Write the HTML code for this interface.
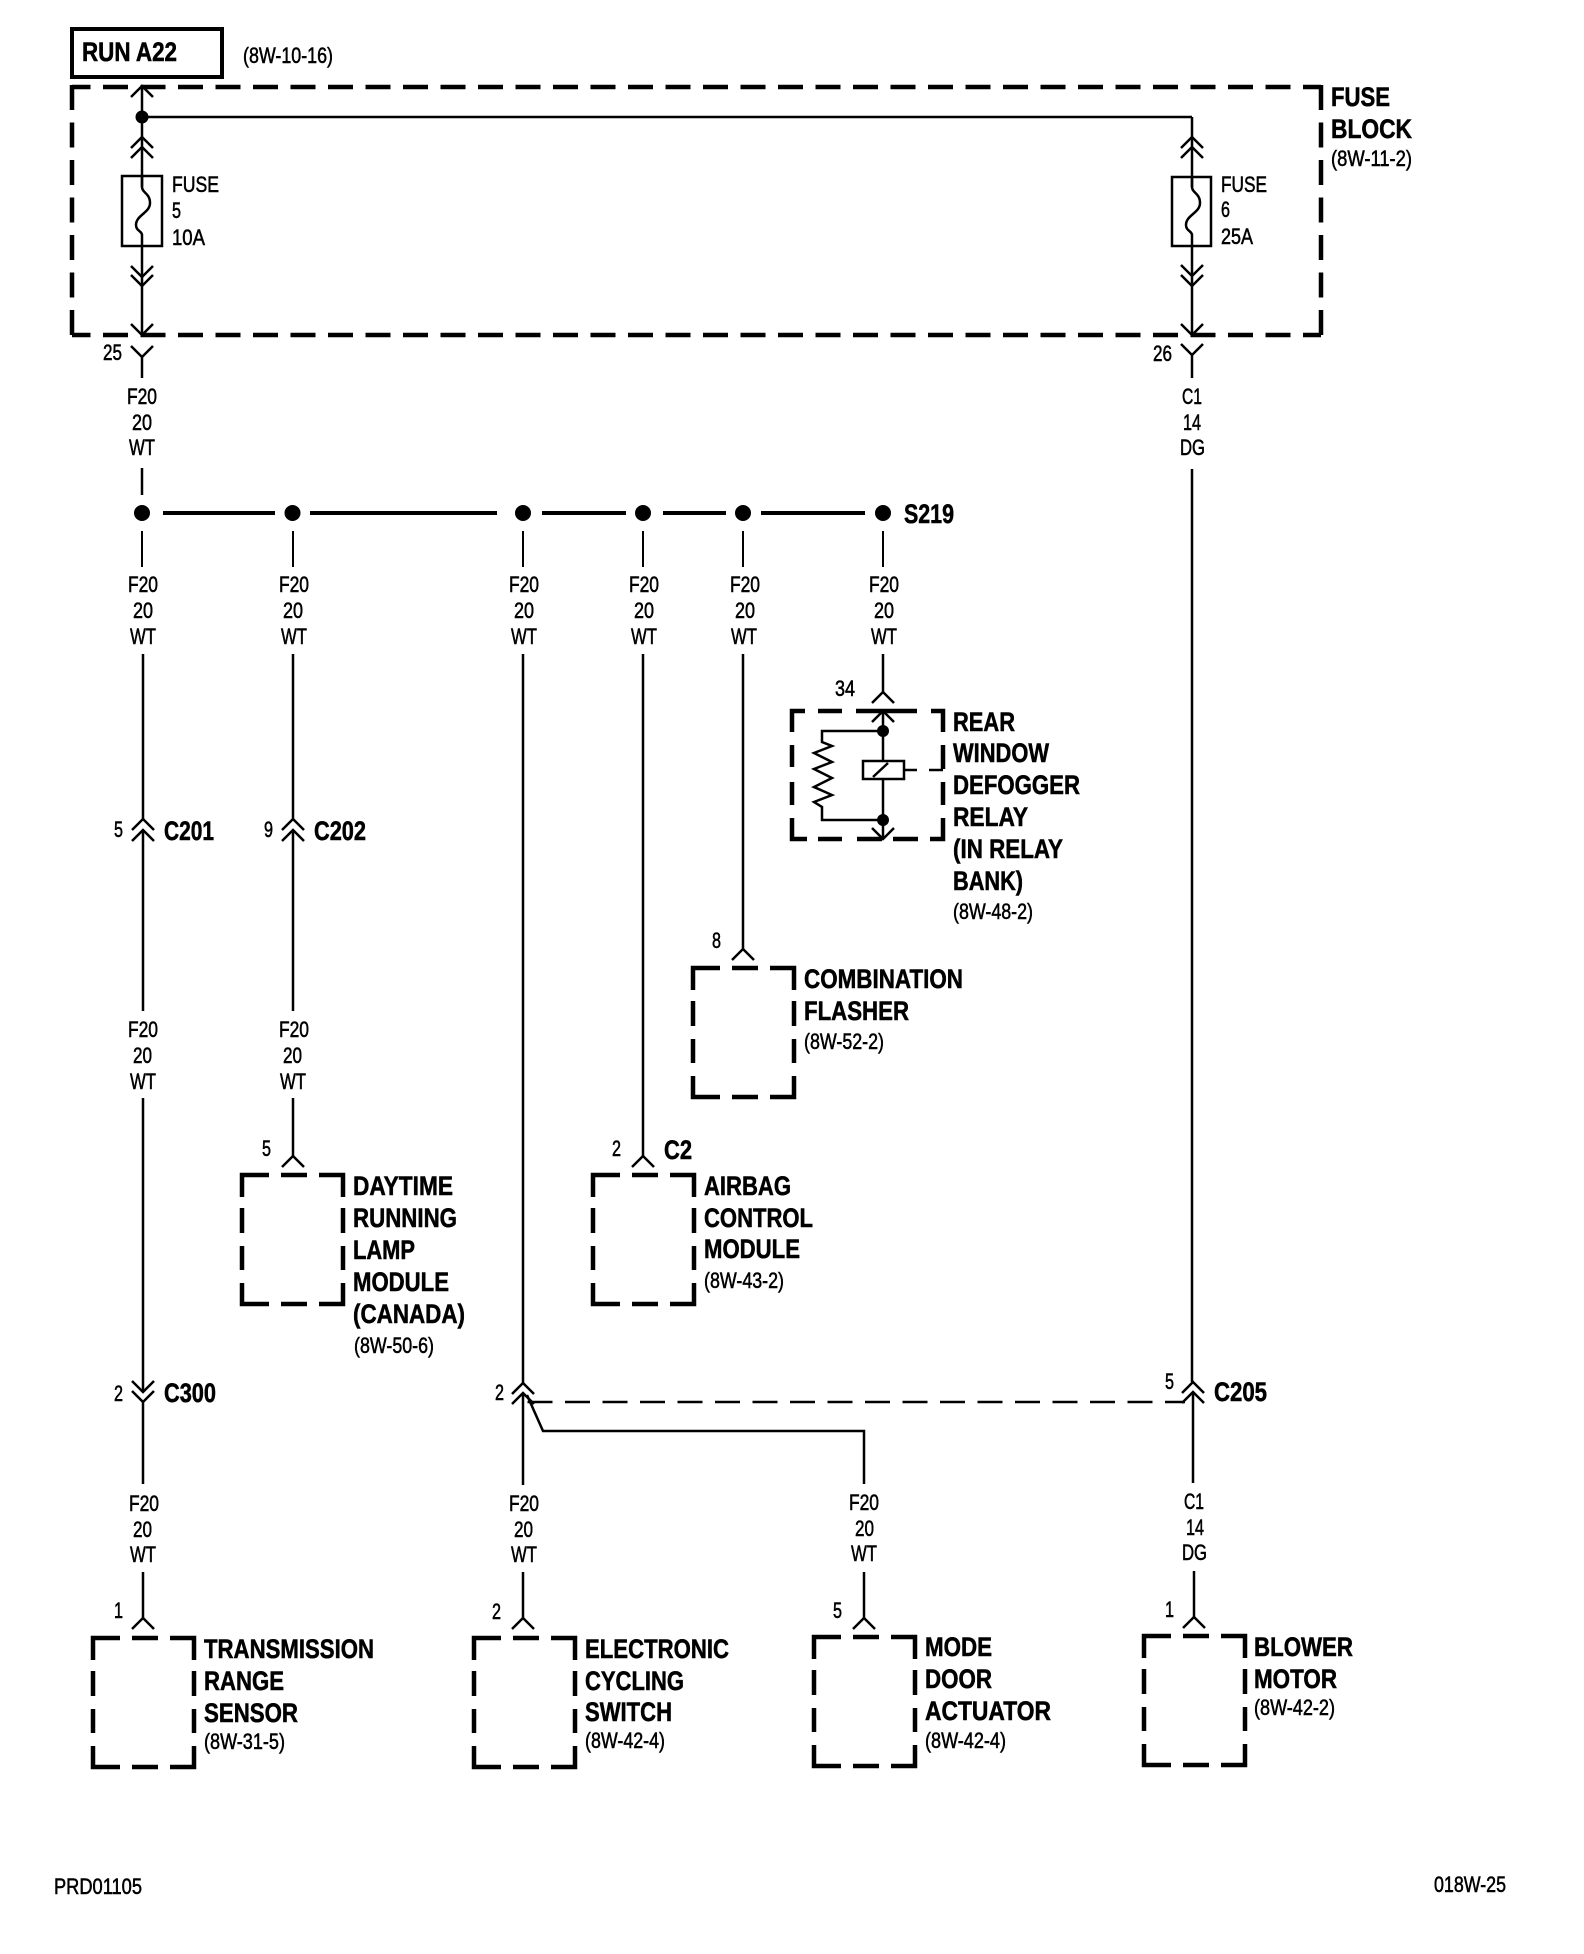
<!DOCTYPE html>
<html><head><meta charset="utf-8"><title>Wiring diagram</title>
<style>
html,body{margin:0;padding:0;background:#fff}
svg{display:block}
text{font-family:"Liberation Sans",sans-serif;fill:#000;font-size:22px;stroke:#000;stroke-width:.55px}
text.b{font-weight:bold;font-size:27px;stroke-width:.55px}
.w{stroke:#000;stroke-width:2.5;fill:none}
.h{stroke:#000;stroke-width:4.5;fill:none}
.d{stroke:#000;stroke-width:4.5;fill:none;stroke-dasharray:25 12.5;stroke-dashoffset:6.5}
</style></head><body>
<svg width="1584" height="1954" viewBox="0 0 1584 1954" xmlns="http://www.w3.org/2000/svg">
<defs>
<path id="u" class="w" d="M-11 11L0 0L11 11"/>
<path id="v" class="w" d="M-11 -11L0 0L11 -11"/>
<path id="box" class="h" d="M27 0H0V22M39 0H65M77 0H101V22M0 33V58M101 33V58M0 71V95M101 71V95M0 108V129H27M39 129H65M77 129H101V108"/>
<path id="fs" class="w" d="M0 -59V-48C0 -42 8 -42 8 -32C8 -22 -6 -20 -6 -10C-6 -4 0 -4 0 0"/>
</defs>
<rect width="1584" height="1954" fill="#fff"/>

<!-- RUN box -->
<rect x="72" y="29" width="150" height="48" fill="none" stroke="#000" stroke-width="4"/>
<text class="b" x="82" y="61" textLength="95" lengthAdjust="spacingAndGlyphs">RUN A22</text>
<text x="243" y="63" textLength="90" lengthAdjust="spacingAndGlyphs">(8W-10-16)</text>

<!-- Fuse block -->
<line class="d" x1="72" y1="87" x2="1321" y2="87"/>
<line class="d" x1="72" y1="335" x2="1321" y2="335"/>
<line class="h" style="stroke-dasharray:25 12.5" x1="72" y1="85" x2="72" y2="337"/>
<line class="h" style="stroke-dasharray:25 12.5" x1="1321" y1="85" x2="1321" y2="337"/>
<text class="b" x="1331" y="106" textLength="59" lengthAdjust="spacingAndGlyphs">FUSE</text>
<text class="b" x="1331" y="138" textLength="81" lengthAdjust="spacingAndGlyphs">BLOCK</text>
<text x="1331" y="166" textLength="81" lengthAdjust="spacingAndGlyphs">(8W-11-2)</text>

<!-- fuse 5 -->
<line class="w" x1="142" y1="86" x2="142" y2="187"/>
<line class="w" x1="142" y1="117" x2="1192" y2="117"/>
<circle cx="142" cy="117" r="6.5"/>
<use href="#u" x="142" y="86"/><use href="#u" x="142" y="137"/><use href="#u" x="142" y="147"/>
<rect x="122" y="176" width="40" height="70" fill="none" stroke="#000" stroke-width="2.5"/>
<use href="#fs" x="142" y="235"/>
<line class="w" x1="142" y1="235" x2="142" y2="335"/>
<use href="#v" x="142" y="277"/><use href="#v" x="142" y="286"/><use href="#v" x="142" y="335"/>
<text x="172" y="192" textLength="47" lengthAdjust="spacingAndGlyphs">FUSE</text>
<text x="172" y="218" textLength="9" lengthAdjust="spacingAndGlyphs">5</text>
<text x="172" y="245" textLength="33" lengthAdjust="spacingAndGlyphs">10A</text>
<text x="103" y="360" textLength="19" lengthAdjust="spacingAndGlyphs">25</text>
<use href="#v" x="142" y="357"/><line class="w" x1="142" y1="357" x2="142" y2="378"/>
<text x="127" y="404" textLength="30" lengthAdjust="spacingAndGlyphs">F20</text>
<text x="132" y="430" textLength="20" lengthAdjust="spacingAndGlyphs">20</text>
<text x="129" y="455" textLength="26" lengthAdjust="spacingAndGlyphs">WT</text>
<line class="w" x1="142" y1="468" x2="142" y2="495"/>

<!-- fuse 6 -->
<line class="w" x1="1192" y1="117" x2="1192" y2="187"/>
<use href="#u" x="1192" y="137"/><use href="#u" x="1192" y="147"/>
<rect x="1172" y="177" width="39" height="69" fill="none" stroke="#000" stroke-width="2.5"/>
<use href="#fs" x="1192" y="235"/>
<line class="w" x1="1192" y1="235" x2="1192" y2="335"/>
<use href="#v" x="1192" y="276"/><use href="#v" x="1192" y="286"/><use href="#v" x="1192" y="335"/>
<text x="1221" y="192" textLength="46" lengthAdjust="spacingAndGlyphs">FUSE</text>
<text x="1221" y="217" textLength="9" lengthAdjust="spacingAndGlyphs">6</text>
<text x="1221" y="244" textLength="32" lengthAdjust="spacingAndGlyphs">25A</text>
<text x="1153" y="361" textLength="19" lengthAdjust="spacingAndGlyphs">26</text>
<use href="#v" x="1192" y="355"/><line class="w" x1="1192" y1="355" x2="1192" y2="378"/>
<text x="1182" y="404" textLength="20" lengthAdjust="spacingAndGlyphs">C1</text>
<text x="1183" y="430" textLength="18" lengthAdjust="spacingAndGlyphs">14</text>
<text x="1180" y="455" textLength="25" lengthAdjust="spacingAndGlyphs">DG</text>
<line class="w" x1="1192" y1="469" x2="1192" y2="1382"/>

<!-- bus -->
<g class="h" style="stroke-width:4">
<line x1="163" y1="513" x2="275" y2="513"/><line x1="310" y1="513" x2="497" y2="513"/>
<line x1="542" y1="513" x2="626" y2="513"/><line x1="663" y1="513" x2="726" y2="513"/>
<line x1="761" y1="513" x2="865" y2="513"/>
</g>
<circle cx="142" cy="513" r="8"/><circle cx="292.5" cy="513" r="8"/><circle cx="523" cy="513" r="8"/>
<circle cx="643" cy="513" r="8"/><circle cx="743" cy="513" r="8"/><circle cx="883" cy="513" r="8"/>
<text class="b" x="904" y="523" textLength="50" lengthAdjust="spacingAndGlyphs">S219</text>

<!-- drops -->
<g class="w" style="stroke-width:2">
<line x1="142" y1="531" x2="142" y2="567"/><line x1="293" y1="531" x2="293" y2="567"/>
<line x1="523" y1="531" x2="523" y2="567"/><line x1="643" y1="531" x2="643" y2="567"/>
<line x1="743" y1="531" x2="743" y2="567"/><line x1="883" y1="531" x2="883" y2="567"/>
</g>
<text x="128" y="592" textLength="30" lengthAdjust="spacingAndGlyphs">F20</text><text x="133" y="618" textLength="20" lengthAdjust="spacingAndGlyphs">20</text><text x="130" y="644" textLength="26" lengthAdjust="spacingAndGlyphs">WT</text>
<text x="279" y="592" textLength="30" lengthAdjust="spacingAndGlyphs">F20</text><text x="283" y="618" textLength="20" lengthAdjust="spacingAndGlyphs">20</text><text x="281" y="644" textLength="26" lengthAdjust="spacingAndGlyphs">WT</text>
<text x="509" y="592" textLength="30" lengthAdjust="spacingAndGlyphs">F20</text><text x="514" y="618" textLength="20" lengthAdjust="spacingAndGlyphs">20</text><text x="511" y="644" textLength="26" lengthAdjust="spacingAndGlyphs">WT</text>
<text x="629" y="592" textLength="30" lengthAdjust="spacingAndGlyphs">F20</text><text x="634" y="618" textLength="20" lengthAdjust="spacingAndGlyphs">20</text><text x="631" y="644" textLength="26" lengthAdjust="spacingAndGlyphs">WT</text>
<text x="730" y="592" textLength="30" lengthAdjust="spacingAndGlyphs">F20</text><text x="735" y="618" textLength="20" lengthAdjust="spacingAndGlyphs">20</text><text x="731" y="644" textLength="26" lengthAdjust="spacingAndGlyphs">WT</text>
<text x="869" y="592" textLength="30" lengthAdjust="spacingAndGlyphs">F20</text><text x="874" y="618" textLength="20" lengthAdjust="spacingAndGlyphs">20</text><text x="871" y="644" textLength="26" lengthAdjust="spacingAndGlyphs">WT</text>

<!-- col 1 -->
<line class="w" x1="143" y1="654" x2="143" y2="819"/>
<use href="#u" x="143" y="819"/><use href="#u" x="143" y="830"/>
<line class="w" x1="143" y1="830" x2="143" y2="1011"/>
<text x="114" y="837" textLength="9" lengthAdjust="spacingAndGlyphs">5</text>
<text class="b" x="164" y="840" textLength="50" lengthAdjust="spacingAndGlyphs">C201</text>
<text x="128" y="1037" textLength="30" lengthAdjust="spacingAndGlyphs">F20</text><text x="133" y="1063" textLength="19" lengthAdjust="spacingAndGlyphs">20</text><text x="130" y="1089" textLength="26" lengthAdjust="spacingAndGlyphs">WT</text>
<line class="w" x1="143" y1="1098" x2="143" y2="1392"/>
<use href="#v" x="143" y="1392"/><use href="#v" x="143" y="1402"/>
<line class="w" x1="143" y1="1402" x2="143" y2="1484"/>
<text x="114" y="1401" textLength="9" lengthAdjust="spacingAndGlyphs">2</text>
<text class="b" x="164" y="1402" textLength="52" lengthAdjust="spacingAndGlyphs">C300</text>
<text x="129" y="1511" textLength="30" lengthAdjust="spacingAndGlyphs">F20</text><text x="133" y="1537" textLength="19" lengthAdjust="spacingAndGlyphs">20</text><text x="130" y="1562" textLength="26" lengthAdjust="spacingAndGlyphs">WT</text>
<line class="w" x1="143" y1="1572" x2="143" y2="1618"/><use href="#u" x="143" y="1618"/>
<text x="114" y="1618" textLength="9" lengthAdjust="spacingAndGlyphs">1</text>
<use href="#box" x="93" y="1638"/>
<text class="b" x="204" y="1658" textLength="170" lengthAdjust="spacingAndGlyphs">TRANSMISSION</text>
<text class="b" x="204" y="1690" textLength="80" lengthAdjust="spacingAndGlyphs">RANGE</text>
<text class="b" x="204" y="1722" textLength="94" lengthAdjust="spacingAndGlyphs">SENSOR</text>
<text x="204" y="1749" textLength="81" lengthAdjust="spacingAndGlyphs">(8W-31-5)</text>

<!-- col 2 -->
<line class="w" x1="293" y1="654" x2="293" y2="819"/>
<use href="#u" x="293" y="819"/><use href="#u" x="293" y="830"/>
<line class="w" x1="293" y1="830" x2="293" y2="1011"/>
<text x="264" y="837" textLength="9" lengthAdjust="spacingAndGlyphs">9</text>
<text class="b" x="314" y="840" textLength="52" lengthAdjust="spacingAndGlyphs">C202</text>
<text x="279" y="1037" textLength="30" lengthAdjust="spacingAndGlyphs">F20</text><text x="283" y="1063" textLength="19" lengthAdjust="spacingAndGlyphs">20</text><text x="280" y="1089" textLength="26" lengthAdjust="spacingAndGlyphs">WT</text>
<line class="w" x1="293" y1="1098" x2="293" y2="1156"/><use href="#u" x="293" y="1156"/>
<text x="262" y="1156" textLength="9" lengthAdjust="spacingAndGlyphs">5</text>
<use href="#box" x="242" y="1175"/>
<text class="b" x="353" y="1195" textLength="100" lengthAdjust="spacingAndGlyphs">DAYTIME</text>
<text class="b" x="353" y="1227" textLength="104" lengthAdjust="spacingAndGlyphs">RUNNING</text>
<text class="b" x="353" y="1259" textLength="62" lengthAdjust="spacingAndGlyphs">LAMP</text>
<text class="b" x="353" y="1291" textLength="96" lengthAdjust="spacingAndGlyphs">MODULE</text>
<text class="b" x="353" y="1323" textLength="112" lengthAdjust="spacingAndGlyphs">(CANADA)</text>
<text x="354" y="1353" textLength="80" lengthAdjust="spacingAndGlyphs">(8W-50-6)</text>

<!-- col 3 -->
<line class="w" x1="523" y1="654" x2="523" y2="1383"/>
<use href="#u" x="523" y="1383"/><use href="#u" x="523" y="1393"/>
<line class="w" x1="523" y1="1393" x2="523" y2="1485"/>
<text x="495" y="1400" textLength="9" lengthAdjust="spacingAndGlyphs">2</text>
<line class="w" stroke-dasharray="25 12.5" x1="527.5" y1="1402" x2="1185" y2="1402"/>
<path class="w" d="M527 1395L543 1431H864V1484"/>
<text x="509" y="1511" textLength="30" lengthAdjust="spacingAndGlyphs">F20</text><text x="514" y="1537" textLength="19" lengthAdjust="spacingAndGlyphs">20</text><text x="511" y="1562" textLength="26" lengthAdjust="spacingAndGlyphs">WT</text>
<line class="w" x1="523" y1="1572" x2="523" y2="1618"/><use href="#u" x="523" y="1618"/>
<text x="492" y="1619" textLength="9" lengthAdjust="spacingAndGlyphs">2</text>
<use href="#box" x="474" y="1638"/>
<text class="b" x="585" y="1658" textLength="144" lengthAdjust="spacingAndGlyphs">ELECTRONIC</text>
<text class="b" x="585" y="1690" textLength="99" lengthAdjust="spacingAndGlyphs">CYCLING</text>
<text class="b" x="585" y="1721" textLength="87" lengthAdjust="spacingAndGlyphs">SWITCH</text>
<text x="585" y="1748" textLength="80" lengthAdjust="spacingAndGlyphs">(8W-42-4)</text>

<!-- mode door -->
<text x="849" y="1510" textLength="30" lengthAdjust="spacingAndGlyphs">F20</text><text x="855" y="1536" textLength="19" lengthAdjust="spacingAndGlyphs">20</text><text x="851" y="1561" textLength="26" lengthAdjust="spacingAndGlyphs">WT</text>
<line class="w" x1="864" y1="1572" x2="864" y2="1618"/><use href="#u" x="864" y="1618"/>
<text x="833" y="1618" textLength="9" lengthAdjust="spacingAndGlyphs">5</text>
<use href="#box" x="814" y="1637"/>
<text class="b" x="925" y="1656" textLength="67" lengthAdjust="spacingAndGlyphs">MODE</text>
<text class="b" x="925" y="1688" textLength="67" lengthAdjust="spacingAndGlyphs">DOOR</text>
<text class="b" x="925" y="1720" textLength="126" lengthAdjust="spacingAndGlyphs">ACTUATOR</text>
<text x="925" y="1748" textLength="81" lengthAdjust="spacingAndGlyphs">(8W-42-4)</text>

<!-- col 4 airbag -->
<line class="w" x1="643" y1="654" x2="643" y2="1156"/><use href="#u" x="643" y="1156"/>
<text x="612" y="1156" textLength="9" lengthAdjust="spacingAndGlyphs">2</text>
<text class="b" x="664" y="1159" textLength="28" lengthAdjust="spacingAndGlyphs">C2</text>
<use href="#box" x="593" y="1175"/>
<text class="b" x="704" y="1195" textLength="87" lengthAdjust="spacingAndGlyphs">AIRBAG</text>
<text class="b" x="704" y="1227" textLength="109" lengthAdjust="spacingAndGlyphs">CONTROL</text>
<text class="b" x="704" y="1258" textLength="96" lengthAdjust="spacingAndGlyphs">MODULE</text>
<text x="704" y="1288" textLength="80" lengthAdjust="spacingAndGlyphs">(8W-43-2)</text>

<!-- col 5 flasher -->
<line class="w" x1="743" y1="654" x2="743" y2="949"/><use href="#u" x="743" y="949"/>
<text x="712" y="948" textLength="9" lengthAdjust="spacingAndGlyphs">8</text>
<use href="#box" x="693" y="968"/>
<text class="b" x="804" y="988" textLength="159" lengthAdjust="spacingAndGlyphs">COMBINATION</text>
<text class="b" x="804" y="1020" textLength="105" lengthAdjust="spacingAndGlyphs">FLASHER</text>
<text x="804" y="1049" textLength="80" lengthAdjust="spacingAndGlyphs">(8W-52-2)</text>

<!-- relay -->
<line class="w" x1="883" y1="654" x2="883" y2="692"/><use href="#u" x="883" y="692"/>
<text x="835" y="696" textLength="20" lengthAdjust="spacingAndGlyphs">34</text>
<path class="h" d="M805 711H792V732M818 711H842M856 711H917M931 711H943V732M792 745V767M943 745V769M792 782V805M943 782V805M792 818V839H807M818 839H842M857 839H882M893 839H918M930 839H943V818"/>
<use href="#u" x="883" y="711"/>
<line class="w" x1="883" y1="711" x2="883" y2="761"/>
<circle cx="883" cy="731" r="6"/><circle cx="883" cy="820" r="6"/>
<path class="w" d="M883 731H822V742L832 746L814 753L832 762L814 769L832 778L814 787L832 795L814 802L822 807V820H883"/>
<rect x="863" y="761" width="41" height="18" fill="none" stroke="#000" stroke-width="2.5"/>
<line class="w" x1="873" y1="777" x2="888" y2="763"/>
<line class="w" x1="904" y1="770" x2="917" y2="770"/><line class="w" x1="929" y1="770" x2="943" y2="770"/>
<line class="w" x1="883" y1="779" x2="883" y2="839"/><use href="#v" x="883" y="839"/>
<text class="b" x="953" y="731" textLength="62" lengthAdjust="spacingAndGlyphs">REAR</text>
<text class="b" x="953" y="762" textLength="96" lengthAdjust="spacingAndGlyphs">WINDOW</text>
<text class="b" x="953" y="794" textLength="127" lengthAdjust="spacingAndGlyphs">DEFOGGER</text>
<text class="b" x="953" y="826" textLength="75" lengthAdjust="spacingAndGlyphs">RELAY</text>
<text class="b" x="953" y="858" textLength="110" lengthAdjust="spacingAndGlyphs">(IN RELAY</text>
<text class="b" x="953" y="890" textLength="70" lengthAdjust="spacingAndGlyphs">BANK)</text>
<text x="953" y="919" textLength="80" lengthAdjust="spacingAndGlyphs">(8W-48-2)</text>

<!-- blower -->
<use href="#u" x="1193" y="1382"/><use href="#u" x="1193" y="1392"/>
<line class="w" x1="1193" y1="1392" x2="1193" y2="1483"/>
<text x="1165" y="1389" textLength="9" lengthAdjust="spacingAndGlyphs">5</text>
<text class="b" x="1214" y="1401" textLength="53" lengthAdjust="spacingAndGlyphs">C205</text>
<text x="1184" y="1509" textLength="20" lengthAdjust="spacingAndGlyphs">C1</text><text x="1186" y="1535" textLength="18" lengthAdjust="spacingAndGlyphs">14</text><text x="1182" y="1560" textLength="25" lengthAdjust="spacingAndGlyphs">DG</text>
<line class="w" x1="1194" y1="1571" x2="1194" y2="1617"/><use href="#u" x="1194" y="1617"/>
<text x="1165" y="1617" textLength="9" lengthAdjust="spacingAndGlyphs">1</text>
<use href="#box" x="1144" y="1636"/>
<text class="b" x="1254" y="1656" textLength="99" lengthAdjust="spacingAndGlyphs">BLOWER</text>
<text class="b" x="1254" y="1688" textLength="83" lengthAdjust="spacingAndGlyphs">MOTOR</text>
<text x="1254" y="1715" textLength="81" lengthAdjust="spacingAndGlyphs">(8W-42-2)</text>

<!-- footer -->
<text x="54" y="1894" textLength="88" lengthAdjust="spacingAndGlyphs">PRD01105</text>
<text x="1434" y="1892" textLength="72" lengthAdjust="spacingAndGlyphs">018W-25</text>
</svg>
</body></html>
